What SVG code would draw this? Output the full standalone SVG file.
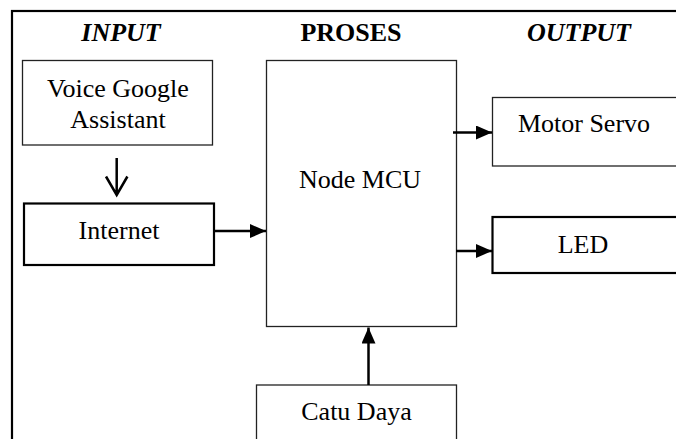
<svg xmlns="http://www.w3.org/2000/svg" width="676" height="439" viewBox="0 0 676 439">
<style>
text{font-family:"Liberation Serif","Times New Roman",serif;font-size:26px;fill:#000;text-anchor:middle}
.h{font-weight:bold}
.i{font-style:italic}
.thin{fill:#fff;stroke:#222;stroke-width:1.3}
.thick{fill:#fff;stroke:#000;stroke-width:2.2}
.c{stroke:#000;stroke-width:2.5;fill:none}
</style>
<defs>
<marker id="ah" viewBox="0 0 16 14" refX="16" refY="7" markerWidth="16" markerHeight="14" markerUnits="userSpaceOnUse" orient="auto">
<path d="M0,0 L16,7 L0,14 Z" fill="#000"/>
</marker>
</defs>
<rect x="12" y="11" width="680" height="440" fill="none" stroke="#000" stroke-width="2.2"/>
<g id="headings">
<text class="h i" x="121" y="40.5">INPUT</text>
<text class="h" x="351" y="40.5">PROSES</text>
<text class="h i" x="579" y="40.5">OUTPUT</text>
</g>
<g id="voice">
<rect class="thin" x="22.5" y="60.5" width="190" height="84.5"/>
<text x="118" y="96.5">Voice Google</text>
<text x="118" y="128">Assistant</text>
</g>
<g id="internet">
<rect class="thick" x="24" y="203.5" width="190" height="61.5"/>
<text x="119" y="239">Internet</text>
</g>
<g id="nodemcu">
<rect class="thin" x="266.5" y="60.5" width="190" height="266"/>
<text x="360" y="188">Node MCU</text>
</g>
<g id="motorservo">
<rect class="thin" x="492.5" y="97.5" width="190" height="68.5"/>
<text x="584" y="131.5">Motor Servo</text>
</g>
<g id="led">
<rect class="thick" x="492.5" y="217" width="190" height="56"/>
<text x="583" y="252.5">LED</text>
</g>
<g id="catudaya">
<rect class="thin" x="256.5" y="385" width="200" height="70"/>
<text x="356.5" y="420">Catu Daya</text>
</g>
<g id="connectors">
<path class="c" d="M116.7,158 V195 M106,176.5 L116.7,195 L127.4,176.5" stroke-width="2"/>
<line class="c" x1="214" y1="231" x2="266" y2="231" marker-end="url(#ah)"/>
<line class="c" x1="453" y1="132.5" x2="492" y2="132.5" marker-end="url(#ah)"/>
<line class="c" x1="456" y1="251" x2="492" y2="251" marker-end="url(#ah)"/>
<line class="c" x1="368.5" y1="385" x2="368.5" y2="327.5" marker-end="url(#ah)"/>
</g>
</svg>
